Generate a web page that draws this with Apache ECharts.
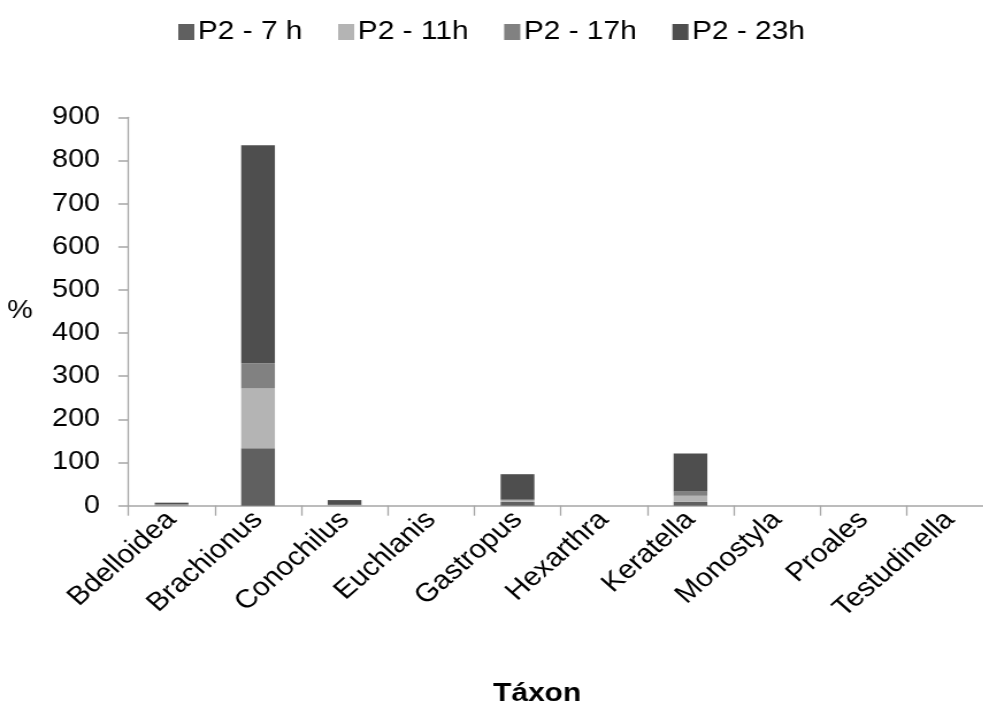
<!DOCTYPE html>
<html>
<head>
<meta charset="utf-8">
<script src="https://cdn.jsdelivr.net/npm/echarts@6/dist/echarts.min.js"></script>
<style>
  html, body { margin: 0; padding: 0; background: #fff; overflow: hidden; width: 983px; height: 710px; }
  /* the figure is laid out in a narrower frame and widened horizontally */
  #chart { width: 870px; height: 710px; transform-origin: 0 0; transform: scaleX(1.15); }
</style>
</head>
<body>
<div id="chart"></div>
<script>
// Rotifer taxa and their percentages at each sampling hour (point P2)
const categories = ['Bdelloidea', 'Brachionus', 'Conochilus', 'Euchlanis', 'Gastropus',
                    'Hexarthra', 'Keratella', 'Monostyla', 'Proales', 'Testudinella'];
const seriesNames = ['P2 - 7 h', 'P2 - 11h', 'P2 - 17h', 'P2 - 23h'];
const h7  = [1, 133, 0.5, 0, 9, 0, 9, 0, 0, 0];
const h11 = [1, 139, 1, 0, 3, 0, 14, 0, 0, 0];
const h17 = [2, 58, 0.5, 0, 2, 0, 10, 0, 0, 0];
const h23 = [3, 505, 11, 0, 59, 0, 88, 0, 0, 0];
const yTicks = { min: 0, max: 900, interval: 100 };

const colors = ['#606060', '#b4b4b4', '#818181', '#4e4e4e'];
const values = [h7, h11, h17, h23];
const font = 'Liberation Sans, Arial, sans-serif';
const axisGrey = '#a6a6a6';

const chart = echarts.init(document.getElementById('chart'), null, { renderer: 'canvas' });
chart.setOption({
  animation: false,
  backgroundColor: '#ffffff',
  color: colors,
  legend: {
    left: 150,
    top: 14,
    icon: 'rect',
    itemWidth: 14,
    itemHeight: 16,
    itemGap: 31,
    textStyle: { fontFamily: font, fontSize: 26, color: '#000', padding: [0, 0, 0, -2] },
    data: seriesNames
  },
  grid: {
    left: 111.6, top: 117.3, width: 752, bottom: 204.3,
    containLabel: false, outerBoundsMode: 'none'
  },
  xAxis: {
    type: 'category',
    data: categories,
    name: 'Táxon',
    nameLocation: 'middle',
    nameGap: 175,
    nameTextStyle: { fontFamily: font, fontSize: 26, fontWeight: 'bold', color: '#000', padding: [0, 41, 0, 0] },
    axisLine: { lineStyle: { color: axisGrey, width: 1.5 } },
    axisTick: { show: true, length: 10, lineStyle: { color: axisGrey, width: 1.3 } },
    axisLabel: { rotate: 45, margin: 10, fontFamily: font, fontSize: 26, color: '#000', interval: 0 }
  },
  yAxis: {
    type: 'value',
    min: yTicks.min,
    max: yTicks.max,
    interval: yTicks.interval,
    name: '%',
    nameLocation: 'middle',
    nameRotate: 0,
    nameGap: 83,
    nameTextStyle: { fontFamily: font, fontSize: 25, color: '#000' },
    splitLine: { show: false },
    axisLine: { show: true, lineStyle: { color: axisGrey, width: 1.3 } },
    axisTick: { show: true, length: 8.7, lineStyle: { color: axisGrey, width: 1.5 } },
    axisLabel: { margin: 24.6, fontFamily: font, fontSize: 25, color: '#000' }
  },
  series: seriesNames.map((name, i) => ({
    name: name,
    type: 'bar',
    stack: 'total',
    barWidth: '39%',
    data: values[i],
    itemStyle: { color: colors[i] }
  }))
});
</script>
</body>
</html>
